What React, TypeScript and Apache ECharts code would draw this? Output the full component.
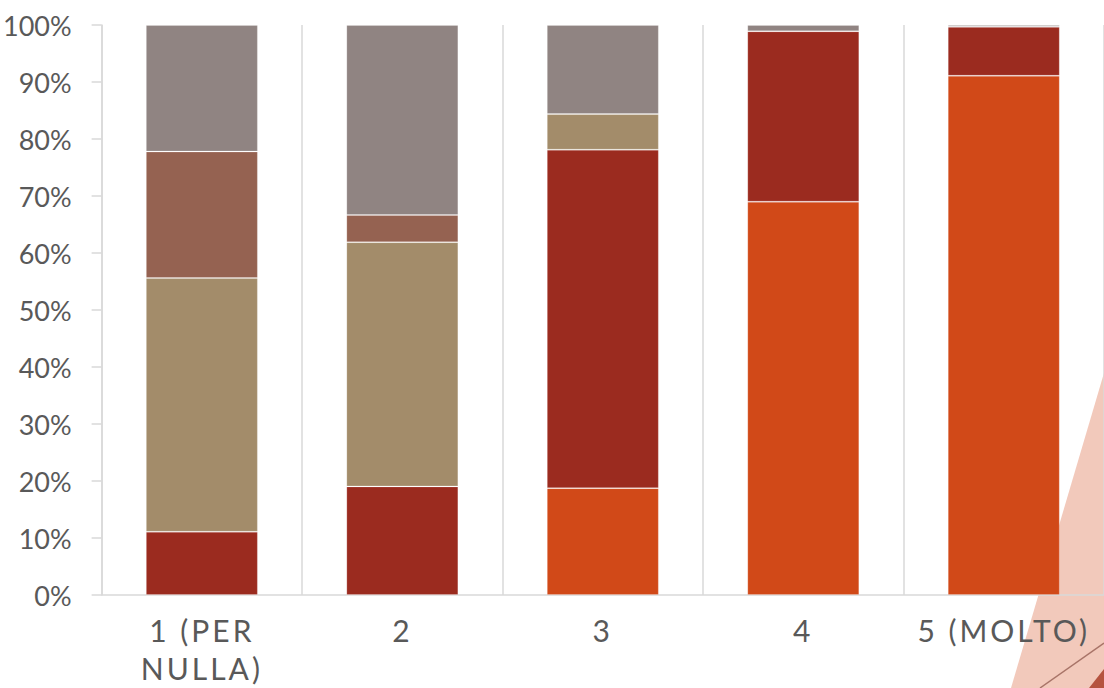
import React, { useEffect, useRef } from "react";
import * as echarts from "echarts";

const categories = ["1 (PER\nNULLA)", "2", "3", "4", "5 (MOLTO)"];
const yTicks = [0, 10, 20, 30, 40, 50, 60, 70, 80, 90, 100];

const seriesNames = ["A", "B", "C", "D", "E"];
const orangeVals = [0, 0, 18.75, 69.0, 91.1];
const redVals = [11.1, 19.05, 59.375, 29.9, 8.6];
const tanVals = [44.5, 42.85, 6.25, 0, 0];
const brownVals = [22.2, 4.76, 0, 0, 0];
const grayVals = [22.2, 33.34, 15.625, 1.1, 0.3];

const colors = ["#D14918", "#9B2B1F", "#A38C6A", "#956251", "#908482"];

export default function App() {
  const ref = useRef<HTMLDivElement>(null);

  useEffect(() => {
    if (!ref.current) return;
    const chart = echarts.init(ref.current, undefined, { renderer: "svg" });
    const data = [orangeVals, redVals, tanVals, brownVals, grayVals];
    const axisColor = "#D9D9D9";
    const font = "Lato, 'Open Sans', sans-serif";
    chart.setOption({
      animation: false,
      backgroundColor: "#FFFFFF",
      grid: { left: 99, width: 1010, top: 25, bottom: 93, containLabel: false },
      xAxis: {
        type: "category",
        data: categories,
        axisLine: { show: true, lineStyle: { color: axisColor, width: 1.5 } },
        axisTick: { show: false },
        splitLine: { show: true, lineStyle: { color: axisColor, width: 1.5 } },
        axisLabel: {
          color: "#595959",
          fontSize: 30,
          fontFamily: font,
          lineHeight: 38,
          margin: 16,
          interval: 0,
        },
      },
      yAxis: {
        type: "value",
        min: 0,
        max: 100,
        interval: 10,
        axisLine: { show: true, lineStyle: { color: axisColor, width: 1.5 } },
        axisTick: { show: true, length: 10, lineStyle: { color: axisColor, width: 1.5 } },
        splitLine: { show: false },
        axisLabel: {
          color: "#595959",
          fontSize: 27,
          fontFamily: font,
          margin: 30,
          formatter: (v: number) => (yTicks.includes(v) ? v + "%" : ""),
        },
      },
      graphic: [
        {
          type: "polygon",
          z: -10,
          shape: { points: [[1104, 373], [1011, 688], [1104, 688]] },
          style: { fill: "#F2C9BB" },
        },
        {
          type: "line",
          z: -9,
          shape: { x1: 1040, y1: 688, x2: 1104, y2: 643 },
          style: { stroke: "#A87468", lineWidth: 1.5 },
        },
        {
          type: "polygon",
          z: -9,
          shape: { points: [[1089, 688], [1104, 669], [1104, 688]] },
          style: { fill: "#B5533F" },
        },
      ],
      series: seriesNames.map((name, i) => ({
        name,
        type: "bar",
        stack: "total",
        barWidth: 112,
        data: data[i],
        itemStyle: {
          color: colors[i],
          borderColor: "rgba(255,255,255,0.18)",
          borderWidth: 1,
        },
      })),
    });
    const spaced = new Set(["1 (PER", "NULLA)", "5 (MOLTO)", "2", "3", "4"]);
    ref.current.querySelectorAll("text").forEach((t) => {
      const s = (t.textContent || "").trim();
      if (spaced.has(s)) {
        (t as SVGTextElement).style.letterSpacing = "3px";
      }
    });
    return () => chart.dispose();
  }, []);

  return (
    <div
      ref={ref}
      style={{ position: "fixed", left: 0, top: 0, width: 1104, height: 688 }}
    />
  );
}
